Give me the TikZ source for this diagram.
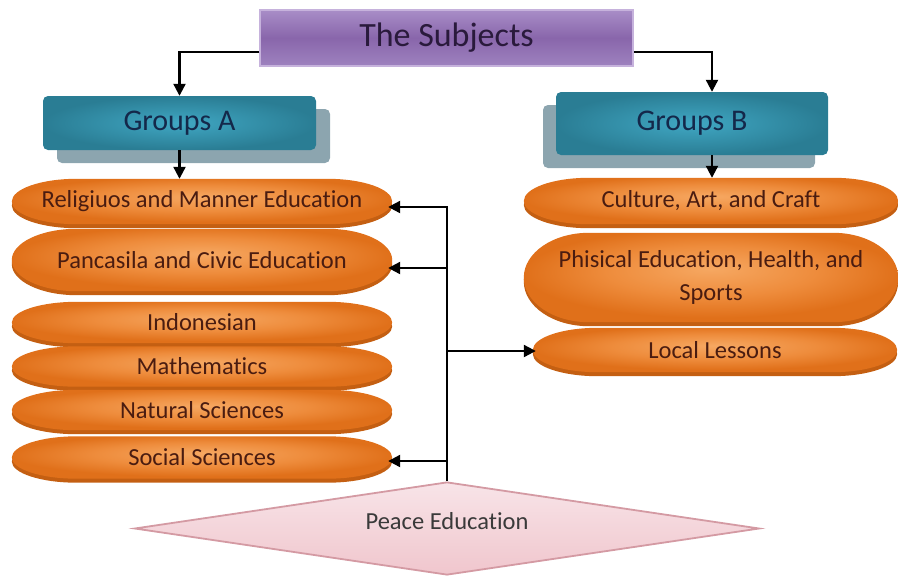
\documentclass[tikz,border=0pt]{standalone}
\usepackage{fontspec}
\setmainfont{Carlito}[Ligatures=NoCommon]
\usetikzlibrary{arrows.meta,calc,shapes.geometric,shadows}
\pgfdeclarelayer{background}
\pgfsetlayers{background,main}
\definecolor{subjTop}{HTML}{A88DC7}
\definecolor{subjMid}{HTML}{8966AB}
\definecolor{subjBot}{HTML}{9E82BF}
\definecolor{subjBorder}{HTML}{C6B2DC}
\definecolor{subjText}{HTML}{2A1A3C}
\definecolor{tealA}{HTML}{40A7C3}
\definecolor{tealB}{HTML}{2A7D94}
\definecolor{groupText}{HTML}{14284A}
\definecolor{gshadow}{HTML}{8CA5AF}
\definecolor{pillA}{HTML}{F6A862}
\definecolor{pillM}{HTML}{EE8C3C}
\definecolor{pillB}{HTML}{E0701A}
\definecolor{pillRim}{HTML}{C45F12}
\definecolor{pillText}{HTML}{4A1C10}
\definecolor{peaceTop}{HTML}{F8E4E8}
\definecolor{peaceBot}{HTML}{F0C6CD}
\definecolor{peaceBorder}{HTML}{D49AA3}
\definecolor{peaceText}{HTML}{3A3A3A}
\pgfdeclareradialshading{pillshade}{\pgfpoint{0bp}{5bp}}{color(0bp)=(pillA); color(14bp)=(pillM); color(25bp)=(pillB); color(50bp)=(pillB)}
\pgfdeclareradialshading{tealshade}{\pgfpoint{0bp}{0bp}}{color(0bp)=(tealA); color(25bp)=(tealB); color(50bp)=(tealB)}
\def\pillk{0.5523}
\def\pillr{65pt}
\def\pillc{29.1pt}
\newcommand{\pillpath}[1]{%
 (#1.west) .. controls ($(#1.west)!\pillk!(#1.north west)$) and ([xshift=\pillc]#1.north west) .. ([xshift=\pillr]#1.north west)
 -- ([xshift=-\pillr]#1.north east) .. controls ([xshift=-\pillc]#1.north east) and ($(#1.east)!\pillk!(#1.north east)$) .. (#1.east)
 .. controls ($(#1.east)!\pillk!(#1.south east)$) and ([xshift=-\pillc]#1.south east) .. ([xshift=-\pillr]#1.south east)
 -- ([xshift=\pillr]#1.south west) .. controls ([xshift=\pillc]#1.south west) and ($(#1.west)!\pillk!(#1.south west)$) .. (#1.west) -- cycle}
\begin{document}
\begin{tikzpicture}[x=1pt,y=-1pt,
  subjbox/.style={rectangle, minimum width=373pt, minimum height=56pt, inner sep=0pt,
    draw=subjBorder, line width=1.5pt, top color=subjTop, bottom color=subjBot, middle color=subjMid,
    font=\fontsize{34}{40}\selectfont, text=subjText},
  groupbox/.style={rectangle, rounded corners=5pt, minimum width=273pt, inner sep=0pt,
    shade, shading=tealshade, font=\fontsize{30}{36}\selectfont, text=groupText},
  pill/.style={rectangle, minimum width=380pt, inner sep=0pt, draw=none,
    font=\fontsize{24.5}{33}\selectfont, text=pillText},
  peace/.style={diamond, aspect=6.7, minimum width=625pt, minimum height=93pt, inner sep=0pt,
    text depth=16pt, draw=peaceBorder, line width=1.8pt, top color=peaceTop, bottom color=peaceBot,
    font=\fontsize{24.5}{30}\selectfont, text=peaceText},
  arr/.style={draw=black, line width=2.2pt, -{Triangle[length=12pt,width=12pt]}},
  rimfill/.style={fill=pillRim}
]
\useasboundingbox (0,0) rectangle (898,576);

% top box and groups
\node[subjbox] (subj) at (446.5,38) {The Subjects};
\node[groupbox, minimum height=54pt,
  drop shadow={shadow xshift=14pt, shadow yshift=-13pt, fill=gshadow, opacity=1}]
  (ga) at (179.5,123) {Groups A};
\node[groupbox, minimum width=272pt, minimum height=63pt,
  drop shadow={shadow xshift=-13pt, shadow yshift=-13pt, fill=gshadow, opacity=1}]
  (gb) at (692,123.5) {Groups B};

% subject pills (text nodes)
\node[pill, minimum height=45pt] (rel) at (202,201.5) {Religiuos and Manner Education};
\node[pill, minimum height=62pt] (pan) at (202,260) {Pancasila and Civic Education};
\node[pill, minimum height=41pt] (ind) at (202,322.5) {Indonesian};
\node[pill, minimum height=40pt] (mat) at (202,366.5) {Mathematics};
\node[pill, minimum height=40pt] (nat) at (202,410) {Natural Sciences};
\node[pill, minimum height=42pt] (soc) at (202,457.5) {Social Sciences};
\node[pill, minimum width=374pt, minimum height=46pt] (cul) at (711,201) {Culture, Art, and Craft};
\node[pill, minimum width=374pt, minimum height=89pt, align=center] (phy) at (711,277.5) {Phisical Education, Health, and\\Sports};
\node[pill, minimum width=364pt, minimum height=44pt] (loc) at (715,350) {Local Lessons};

% pill shapes
\begin{pgfonlayer}{background}
\foreach \n in {rel,pan,ind,mat,nat,soc,cul,phy,loc}{
  \fill[rimfill, transform canvas={yshift=-4pt}] \pillpath{\n};
  \shade[shading=pillshade] \pillpath{\n};
}
\end{pgfonlayer}

% peace education
\node[peace] (pe) at (447,528.5) {Peace Education};

% connectors
\draw[arr] ([yshift=-14pt]subj.west) -| (ga.north);
\draw[arr] ([yshift=-14pt]subj.east) -| ([xshift=20pt]gb.north);
\draw[arr] (ga.south) -- (ga.south |- rel.north);
\draw[arr] ([xshift=20pt]gb.south) -- ([xshift=20pt]gb.south |- cul.north);

\coordinate (relin) at ([xshift=-4pt,yshift=-5.5pt]rel.east);
\coordinate (panin) at ([xshift=-4pt,yshift=-8pt]pan.east);
\coordinate (socin) at ([xshift=-4pt,yshift=-3.5pt]soc.east);
\coordinate (locin) at ([xshift=3pt,yshift=-1pt]loc.west);
\draw[arr] (pe.north) -- (pe.north |- relin) -- (relin);
\draw[arr] (pe.north |- panin) -- (panin);
\draw[arr] (pe.north |- socin) -- (socin);
\draw[arr] (pe.north |- locin) -- (locin);
\end{tikzpicture}
\end{document}
